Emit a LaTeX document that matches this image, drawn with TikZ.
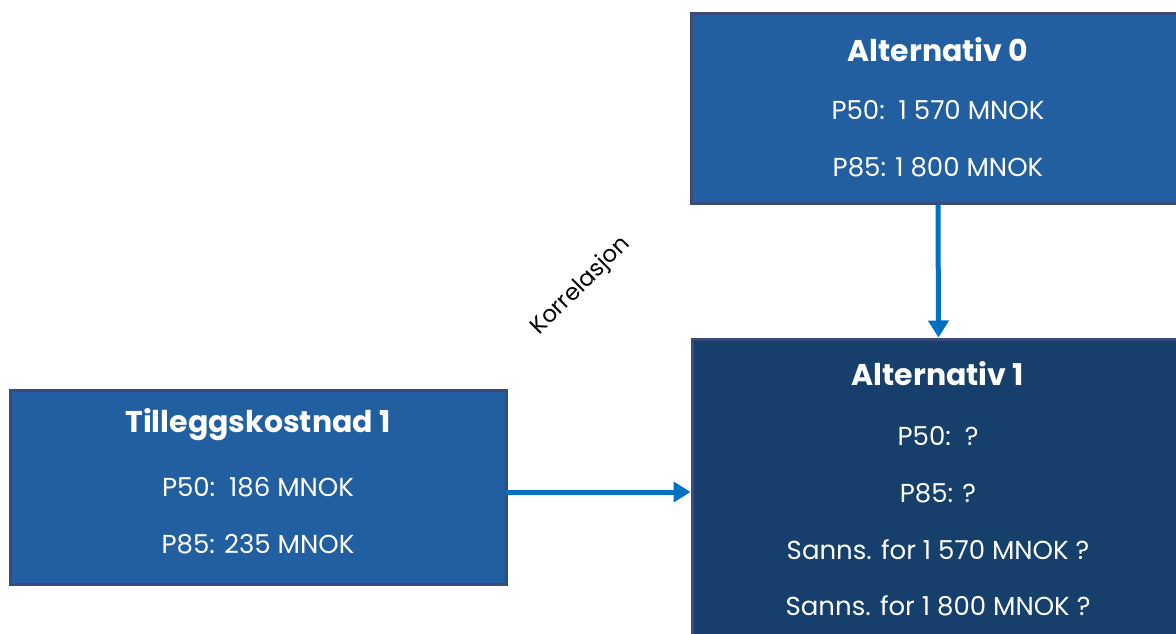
\documentclass[tikz,border=0pt]{standalone}
\usepackage{fontspec}
\setmainfont{Poppins}
\usetikzlibrary{arrows.meta}
\definecolor{boxborder}{HTML}{3A4A7C}
\definecolor{boxfillA}{HTML}{215FA0}
\definecolor{boxfillB}{HTML}{173F6B}
\definecolor{arrowblue}{HTML}{0070C0}
\tikzset{
  box/.style={draw=boxborder, line width=3pt, rectangle, inner sep=0pt},
  ttl/.style={text=white, font=\fontsize{30}{34}\selectfont\bfseries, anchor=center},
  txt/.style={text=white, font=\fontsize{26}{30}\selectfont, anchor=center},
  conn/.style={draw=arrowblue, line width=5pt, -{Triangle[length=17pt,width=20pt]}},
}
\begin{document}
\begin{tikzpicture}[x=1pt,y=-1pt]
\useasboundingbox (0,0) rectangle (1176,634);
\clip (0,0) rectangle (1176,634);
% boxes
\node[box, fill=boxfillA, minimum width=494pt, minimum height=189pt] (a0) at (938,108.5) {};
\node[box, fill=boxfillB, minimum width=493pt, minimum height=305pt] (a1) at (938.5,491.5) {};
\node[box, fill=boxfillA, minimum width=496pt, minimum height=194pt] (t1) at (258,487) {};
\coordinate (t1r) at (506,492);
% texts
\node[ttl] (a0t) at (938,50) {Alternativ 0};
\node[txt] (a0p50) at (938,110) {P50:\ \ 1 570 MNOK};
\node[txt] (a0p85) at (938,167) {P85: 1 800 MNOK};
\node[ttl] (a1t) at (938,374) {Alternativ 1};
\node[txt] (a1p50) at (938,436) {P50:\ \ ?};
\node[txt] (a1p85) at (938,493) {P85: ?};
\node[txt] (a1s1) at (938,550) {Sanns. for 1 570 MNOK ?};
\node[txt] (a1s2) at (938,606) {Sanns. for 1 800 MNOK ?};
\node[ttl] (t1t) at (258,425) {Tilleggskostnad 1};
\node[txt] (t1p50) at (258,487) {P50:\ \ 186 MNOK};
\node[txt] (t1p85) at (258,544) {P85: 235 MNOK};
\node[font=\fontsize{23}{27}\selectfont, rotate=45, anchor=center, inner sep=0pt] (korr) at (581,286) {Korrelasjon};
% connectors
\draw[conn] (a0.south) -- (a1.north);
\draw[conn] (t1r) -- (t1r -| a1.west);
\end{tikzpicture}
\end{document}
